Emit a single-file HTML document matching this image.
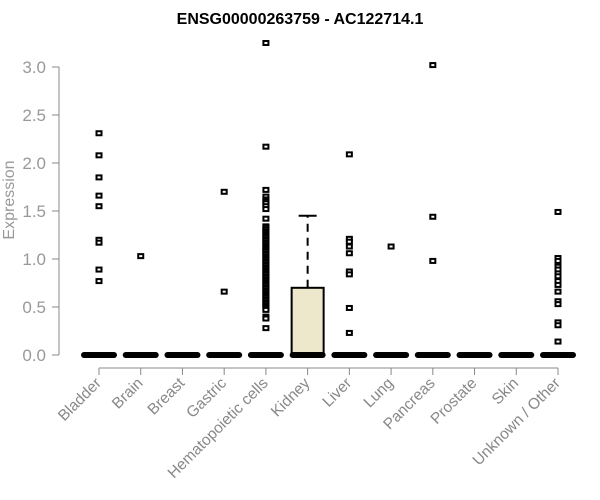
<!DOCTYPE html>
<html><head><meta charset="utf-8"><style>
body{margin:0;background:#fff}
svg{display:block;font-family:"Liberation Sans",Arial,sans-serif}
</style></head><body>
<svg id="chart" width="600" height="500">
<text x="300" y="24" text-anchor="middle" font-size="16" font-weight="bold">ENSG00000263759 - AC122714.1</text>
<text transform="translate(14,200) rotate(-90)" text-anchor="middle" font-size="16" fill="#999">Expression</text>
<g id="yaxis"></g>
<g id="xaxis"></g>
<g id="plot"></g>
</svg>
<script>
const categories=["Bladder","Brain","Breast","Gastric","Hematopoietic cells","Kidney","Liver","Lung","Pancreas","Prostate","Skin","Unknown / Other"];
const medians=[0,0,0,0,0,0,0,0,0,0,0,0];
const q1=[0,0,0,0,0,0,0,0,0,0,0,0];
const q3=[0,0,0,0,0,0.70,0,0,0,0,0,0];
const whiskerHigh=[0,0,0,0,0,1.45,0,0,0,0,0,0];
const outliers=[
[2.31,2.08,1.85,1.66,1.55,1.20,1.17,0.89,0.77],
[1.03],
[],
[1.70,0.66],
[3.25,2.17,1.72,1.65,1.62,1.60,1.58,1.55,1.52,1.42,1.34,1.33,1.31,1.29,1.28,1.26,1.25,1.23,1.22,1.20,1.19,1.17,1.16,1.14,1.13,1.11,1.10,1.09,1.08,1.06,1.05,1.03,1.02,1.00,0.99,0.97,0.96,0.94,0.93,0.91,0.90,0.88,0.87,0.85,0.84,0.82,0.81,0.79,0.78,0.76,0.75,0.73,0.72,0.70,0.69,0.67,0.66,0.64,0.63,0.61,0.60,0.58,0.57,0.55,0.54,0.52,0.51,0.49,0.47,0.40,0.38,0.28],
[],
[2.09,1.21,1.18,1.13,1.06,0.87,0.84,0.49,0.23],
[1.13],
[3.02,1.44,0.98],
[],
[],
[1.49,1.01,0.98,0.92,0.89,0.85,0.82,0.77,0.73,0.66,0.56,0.53,0.34,0.31,0.14]
];
const yTicks=[0,0.5,1.0,1.5,2.0,2.5,3.0];
const yTickLabels=["0.0","0.5","1.0","1.5","2.0","2.5","3.0"];
const NS="http://www.w3.org/2000/svg";
const y=v=>355-v*96;
const x=i=>99+i*(558-99)/(categories.length-1);
function mk(t,a,p){const e=document.createElementNS(NS,t);for(const k in a)e.setAttribute(k,a[k]);p.appendChild(e);return e;}
const ya=document.getElementById('yaxis'),xa=document.getElementById('xaxis'),pl=document.getElementById('plot');
const yl=mk('line',{x1:59,x2:59,y1:y(0),y2:y(3),stroke:'#888'},ya);


yTicks.forEach((v,i)=>{
 const t=mk('line',{x1:52,x2:59,y1:y(v),y2:y(v),stroke:'#888'},ya);
 
 
 const l=mk('text',{x:46,y:y(v)+6,'text-anchor':'end','font-size':17,fill:'#999'},ya);
 l.textContent=yTickLabels[i];
 
 
});
const xl=mk('line',{x1:x(0),x2:x(categories.length-1),y1:368,y2:368,stroke:'#888'},xa);


categories.forEach((c,i)=>{
 const cx=x(i);
 const t=mk('line',{x1:cx,x2:cx,y1:368,y2:375,stroke:'#888'},xa);
 
 
 const l=mk('text',{transform:`translate(${cx+3},${384}) rotate(-45)`,'text-anchor':'end','font-size':15.5,fill:'#888'},xa);
 l.textContent=c;
 
 
 const g=mk('g',{},pl);
 
 
 if(whiskerHigh[i]>q3[i]){
  const w=mk('line',{x1:cx,x2:cx,y1:y(q3[i]),y2:y(whiskerHigh[i]),stroke:'#000','stroke-width':2,'stroke-dasharray':'8,6'},g);
  
  
  const cp=mk('line',{x1:cx-9,x2:cx+9,y1:y(whiskerHigh[i]),y2:y(whiskerHigh[i]),stroke:'#000','stroke-width':2},g);
  
  
 }
 if(q3[i]>q1[i]){
  const b=mk('rect',{x:cx-16,y:y(q3[i]),width:32,height:y(q1[i])-y(q3[i]),fill:'#ede7cc',stroke:'#000','stroke-width':2},g);
  
  
 }
 const m=mk('line',{x1:cx-15,x2:cx+15,y1:y(medians[i]),y2:y(medians[i]),stroke:'#000','stroke-width':6,'stroke-linecap':'round'},g);
 
 
 outliers[i].forEach(v=>{
  const p=mk('rect',{x:cx-2.5,y:y(v)-2,width:5,height:4,fill:'#fff',stroke:'#000','stroke-width':2},g);
  
  
 });
});
</script>
</body></html>
